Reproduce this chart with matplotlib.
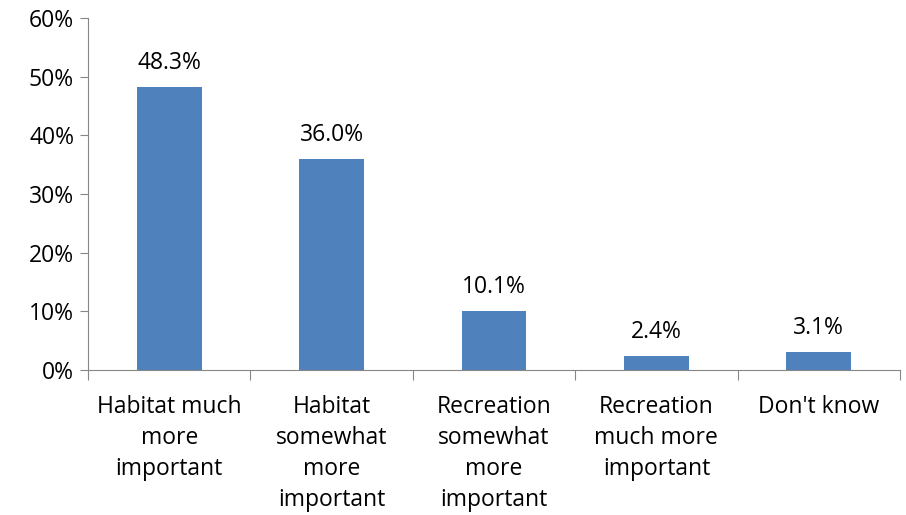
import matplotlib
matplotlib.use("Agg")
import matplotlib.pyplot as plt
import numpy as np

categories = ["Habitat much\nmore\nimportant", "Habitat\nsomewhat\nmore\nimportant",
              "Recreation\nsomewhat\nmore\nimportant", "Recreation\nmuch more\nimportant",
              "Don't know"]
values = [48.3, 36.0, 10.1, 2.4, 3.1]
yticks = [0, 10, 20, 30, 40, 50, 60]

plt.rcParams['font.family'] = ['Open Sans', 'DejaVu Sans']
FS = 16.5
fig = plt.figure(figsize=(9.06, 5.15), dpi=100)
ax = fig.add_axes([88/906, 1-370/515, (900-88)/906, (370-18)/515])

x = np.arange(len(categories))
ax.bar(x, values, width=0.4, color='#4F81BD')
for xi, v in zip(x, values):
    ax.text(xi, v + 2.0, f"{v:.1f}%", ha='center', va='bottom', fontsize=FS)

ax.set_xlim(-0.5, len(categories) - 0.5)
ax.set_ylim(0, 60)
ax.set_yticks(yticks)
ax.set_yticklabels([f"{t}%" for t in yticks], fontsize=FS)
ax.set_xticks(np.arange(len(categories) + 1) - 0.5)
ax.set_xticklabels([])
ax.tick_params(axis='x', length=7, color='#868686', direction='out')
ax.tick_params(axis='y', length=6, color='#868686', direction='out', pad=4)
for xi, c in zip(x, categories):
    ax.text(xi, -0.07, c, transform=ax.get_xaxis_transform(), ha='center', va='top',
            fontsize=FS, linespacing=1.4)

for s in ['top', 'right']:
    ax.spines[s].set_visible(False)
for s in ['left', 'bottom']:
    ax.spines[s].set_color('#868686')

fig.savefig("out.png", dpi=100)
